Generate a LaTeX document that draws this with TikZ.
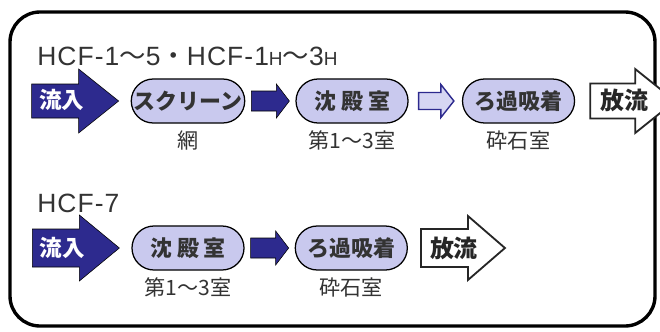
\documentclass[tikz,border=0pt]{standalone}
\usepackage{fontspec}
\setmainfont{Noto Sans CJK JP}
\newfontfamily\latinfont{Liberation Sans}[LetterSpace=4]
\usetikzlibrary{positioning}
\usetikzlibrary{calc}
\usetikzlibrary{shapes.misc}
\definecolor{navy}{RGB}{45,42,142}
\definecolor{pillfill}{RGB}{201,201,238}
\definecolor{lightfill}{RGB}{214,214,243}
\definecolor{ink}{RGB}{51,51,51}
\newcommand{\blockarrow}[6]{%
  \draw[#1] ($(#2)+(0,#4)$) -- ($(#3)+(-#6,#4)$) -- ($(#3)+(-#6,#5)$) -- (#3)
    -- ($(#3)+(-#6,-#5)$) -- ($(#3)+(-#6,-#4)$) -- ($(#2)+(0,-#4)$) -- cycle;}
\newcommand{\smallH}{{\fontsize{13.5}{14}\selectfont H}}

\begin{document}
\begin{tikzpicture}[
        x=0.025cm, y=-0.025cm,
        node distance= 0.17cm and 1.25cm,
        frame/.style={draw, line width=2.4pt, rounded corners=0.75cm},
        title/.style={anchor=base west, inner sep=0, text=ink, font=\fontsize{18.8}{20}\latinfont},
        pill/.style={draw, rounded rectangle, fill=pillfill, line width=0.9pt, minimum width=2.8cm, minimum height=1.1cm, inner sep=0, text=ink, font=\fontsize{15.6}{18}\selectfont\bfseries},
        sub/.style={inner sep=0, text=ink, font=\fontsize{15}{18}\selectfont},
        inflow/.style={fill=navy},
        fillarrow/.style={fill=navy},
        hollowarrow/.style={draw=navy, fill=lightfill, line width=1pt, line join=miter},
        outflow/.style={draw=black!85, fill=white, line width=1.3pt, line join=miter},
        intext/.style={inner sep=0, text=white, font=\fontsize{16}{18}\selectfont\bfseries},
        outtext/.style={inner sep=0, text=black!85, font=\fontsize{17}{18}\selectfont\bfseries},
    ]
        \useasboundingbox (0,0) rectangle (660,331);
        \draw[frame] (10,12) rectangle (655,326);

        \node[title] (t1) at (37,65) {HCF-1{\normalfont～}5{\normalfont・}HCF-1\smallH{\normalfont～}3\smallH};
        \node[pill] (scr) at (188,101) {スクリーン};
        \node[pill, right = of scr] (sed1) {沈 殿 室};
        \node[pill, right = 1.33cm of sed1] (fil1) {ろ過吸着};
        \node[sub, below = of scr] (scrsub) {網};
        \node[sub, below = of sed1] (sed1sub) {第1～3室};
        \node[sub, below = of fil1] (fil1sub) {砕石室};

        \node[title] (t2) at (37,212) {HCF-7};
        \node[pill] (sed2) at (188,248) {沈 殿 室};
        \node[pill, right = of sed2] (fil2) {ろ過吸着};
        \node[sub, below = of sed2] (sed2sub) {第1～3室};
        \node[sub, below = of fil2] (fil2sub) {砕石室};

        \coordinate (in1) at ($(scr.west)+(-99,0)$);
        \coordinate (in1tip) at ($(scr.west)+(-12,0)$);
        \coordinate (out1) at ($(fil1.east)+(15,0)$);
        \coordinate (out1tip) at ($(fil1.east)+(100,0)$);
        \coordinate (in2) at ($(sed2.west)+(-99,0)$);
        \coordinate (in2tip) at ($(sed2.west)+(-12,0)$);
        \coordinate (out2) at ($(fil2.east)+(13,0)$);
        \coordinate (out2tip) at ($(fil2.east)+(97,0)$);

        \blockarrow{inflow}{in1}{in1tip}{17}{32}{40}
        \blockarrow{fillarrow}{$(scr.east)+(6,0)$}{$(sed1.west)+(-6,0)$}{10}{17}{13}
        \blockarrow{hollowarrow}{$(sed1.east)+(10,0)$}{$(fil1.west)+(-8,0)$}{8.5}{16.5}{13}
        \blockarrow{outflow}{out1}{out1tip}{17.5}{32}{40}
        \blockarrow{inflow}{in2}{in2tip}{19}{33}{40}
        \blockarrow{fillarrow}{$(sed2.east)+(6,0)$}{$(fil2.west)+(-6,0)$}{10}{17}{13}
        \blockarrow{outflow}{out2}{out2tip}{19}{32}{37}

        \node[intext] (in1txt) at ($(in1)+(30,-1)$) {流入};
        \node[intext] (in2txt) at ($(in2)+(30,0)$) {流入};
        \node[outtext] (out1txt) at ($(fil1.east)+(49,-1)$) {放流};
        \node[outtext] (out2txt) at ($(fil2.east)+(46,0)$) {放流};
    \end{tikzpicture}
\end{document}
